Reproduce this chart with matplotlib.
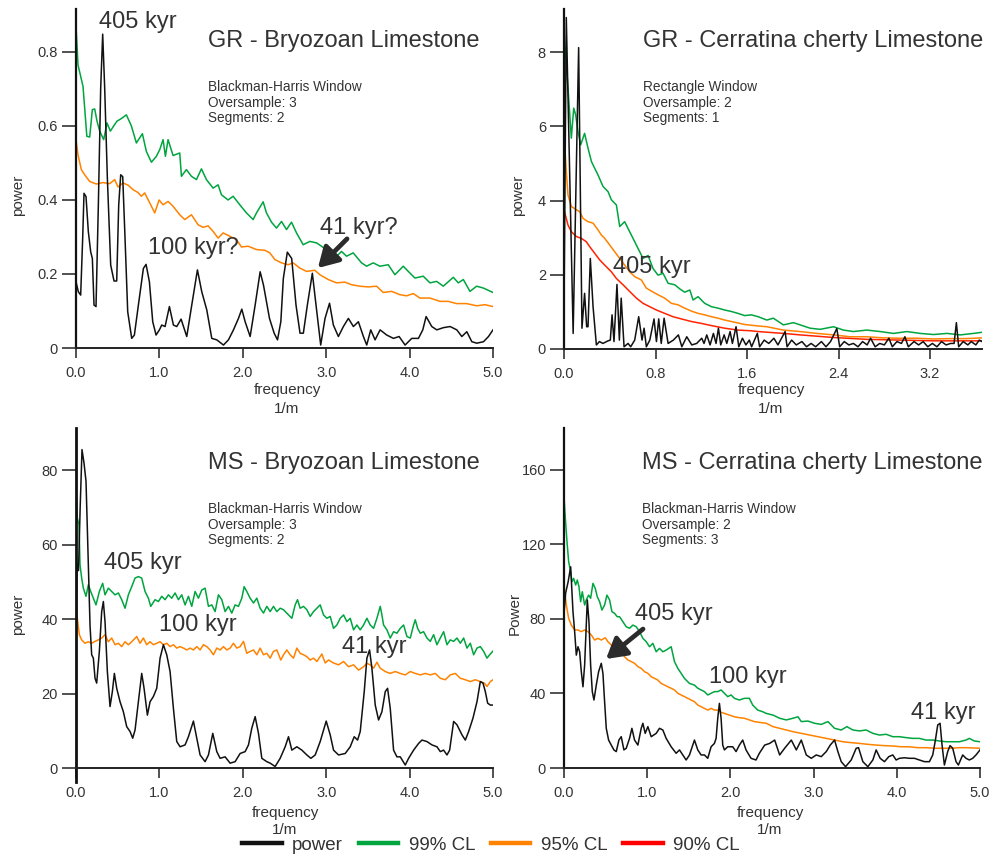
import matplotlib
matplotlib.use('Agg')
import matplotlib.pyplot as plt
from matplotlib.lines import Line2D

plt.rcParams['font.family'] = ['Liberation Sans', 'DejaVu Sans']

# ---------------- DATA ----------------
# Panel 1: GR - Bryozoan Limestone  (frequency, power)
gr_bryo_power = [(0.0,0.179),(0.028,0.152),(0.056,0.143),(0.08,0.296),(0.096,0.418),(0.12,0.409),(0.148,0.314),
    (0.176,0.26),(0.196,0.242),(0.216,0.116),(0.24,0.112),(0.268,0.386),(0.296,0.702),(0.32,0.848),(0.344,0.702),
    (0.376,0.459),(0.416,0.224),(0.456,0.181),(0.488,0.181),(0.512,0.386),(0.536,0.468),(0.56,0.463),(0.588,0.296),
    (0.62,0.098),(0.668,0.026),(0.7,0.035),(0.748,0.116),(0.808,0.215),(0.84,0.226),(0.88,0.179),(0.92,0.071),
    (0.96,0.035),(1.0,0.049),(1.028,0.062),(1.068,0.058),(1.12,0.112),(1.168,0.062),(1.208,0.058),(1.26,0.078),
    (1.328,0.031),(1.388,0.116),(1.456,0.211),(1.508,0.152),(1.568,0.103),(1.628,0.026),(1.688,0.022),(1.768,0.008),
    (1.828,0.022),(1.888,0.049),(1.948,0.08),(1.988,0.105),(2.028,0.071),(2.088,0.031),(2.148,0.116),(2.208,0.206),
    (2.248,0.17),(2.32,0.08),(2.376,0.04),(2.416,0.022),(2.456,0.071),(2.486,0.188),(2.534,0.259),(2.586,0.242),
    (2.638,0.116),(2.686,0.04),(2.726,0.04),(2.774,0.116),(2.834,0.202),(2.878,0.116),(2.934,0.008),(2.986,0.08),
    (3.04,0.121),(3.086,0.062),(3.146,0.031),(3.206,0.058),(3.266,0.08),(3.326,0.058),(3.386,0.071),(3.446,0.031),
    (3.486,0.008),(3.534,0.049),(3.586,0.022),(3.646,0.049),(3.726,0.035),(3.806,0.026),(3.874,0.031),(3.946,0.008),
    (4.026,0.026),(4.106,0.026),(4.158,0.049),(4.198,0.085),(4.266,0.058),(4.326,0.049),(4.406,0.055),(4.486,0.058),
    (4.566,0.049),(4.626,0.031),(4.686,0.044),(4.746,0.017),(4.806,0.013),(4.886,0.017),(4.946,0.031),(5.0,0.049)]
gr_bryo_cl99 = [(0.0,0.87),(0.024,0.765),(0.084,0.707),(0.13,0.572),(0.164,0.57),(0.196,0.644),(0.224,0.646),
    (0.252,0.613),(0.284,0.586),(0.332,0.563),(0.372,0.608),(0.412,0.586),(0.452,0.6),(0.492,0.613),(0.544,0.62),
    (0.604,0.63),(0.664,0.6),(0.724,0.554),(0.796,0.579),(0.844,0.531),(0.904,0.502),(0.964,0.518),(1.004,0.536),
    (1.044,0.563),(1.072,0.518),(1.104,0.563),(1.164,0.52),(1.244,0.527),(1.264,0.464),(1.324,0.482),(1.384,0.464),
    (1.444,0.455),(1.504,0.484),(1.564,0.455),(1.644,0.432),(1.704,0.441),(1.744,0.414),(1.824,0.4),(1.884,0.41),
    (1.964,0.387),(2.044,0.365),(2.124,0.347),(2.164,0.365),(2.244,0.395),(2.284,0.365),(2.344,0.34),(2.404,0.324),
    (2.464,0.342),(2.524,0.32),(2.584,0.34),(2.644,0.311),(2.724,0.279),(2.804,0.288),(2.884,0.284),(2.944,0.275),
    (3.044,0.257),(3.104,0.243),(3.184,0.261),(3.244,0.248),(3.324,0.257),(3.424,0.23),(3.484,0.221),(3.564,0.23),
    (3.644,0.221),(3.744,0.225),(3.824,0.198),(3.924,0.221),(3.984,0.207),(4.064,0.189),(4.164,0.194),(4.244,0.176),
    (4.324,0.18),(4.404,0.167),(4.524,0.191),(4.584,0.176),(4.644,0.185),(4.724,0.153),(4.804,0.167),(4.884,0.162),
    (5.0,0.15)]
gr_bryo_cl95 = [(0.0,0.563),(0.024,0.522),(0.064,0.482),(0.104,0.468),(0.164,0.45),(0.244,0.443),(0.324,0.447),
    (0.404,0.444),(0.464,0.455),(0.504,0.435),(0.564,0.446),(0.624,0.44),(0.684,0.428),(0.744,0.42),(0.784,0.41),
    (0.824,0.419),(0.884,0.392),(0.944,0.365),(0.996,0.4),(1.044,0.387),(1.104,0.396),(1.164,0.383),(1.244,0.36),
    (1.304,0.347),(1.384,0.36),(1.464,0.333),(1.524,0.326),(1.584,0.33),(1.644,0.315),(1.704,0.297),(1.764,0.311),
    (1.844,0.302),(1.924,0.293),(1.984,0.273),(2.064,0.275),(2.164,0.266),(2.264,0.264),(2.324,0.257),(2.384,0.239),
    (2.464,0.23),(2.544,0.225),(2.604,0.23),(2.684,0.216),(2.764,0.207),(2.864,0.21),(2.924,0.198),(3.024,0.185),
    (3.124,0.176),(3.224,0.178),(3.304,0.171),(3.404,0.167),(3.504,0.165),(3.604,0.167),(3.684,0.15),(3.784,0.153),
    (3.884,0.144),(3.964,0.141),(4.044,0.147),(4.124,0.135),(4.244,0.135),(4.364,0.126),(4.464,0.126),(4.564,0.12),
    (4.684,0.12),(4.804,0.114),(4.904,0.117),(5.0,0.112)]

# Panel 2: GR - Cerratina cherty Limestone
gr_cerr_power = [(0.0,1.0),(0.02,8.93),(0.08,0.42),(0.128,8.12),(0.157,0.56),(0.18,1.5),(0.198,0.6),(0.21,0.6),
    (0.23,2.44),(0.254,1.14),(0.283,0.11),(0.31,0.2),(0.34,0.15),(0.385,0.22),(0.405,0.24),(0.42,0.92),(0.437,0.2),
    (0.463,1.74),(0.484,0.24),(0.5,1.37),(0.525,0.06),(0.56,0.15),(0.583,0.06),(0.618,0.24),(0.653,0.87),(0.682,0.24),
    (0.7,0.56),(0.72,0.06),(0.75,0.24),(0.787,0.81),(0.808,0.2),(0.828,0.81),(0.85,0.15),(0.875,0.83),(0.91,0.15),
    (0.956,0.24),(1.0,0.38),(1.03,0.06),(1.073,0.33),(1.117,0.11),(1.16,0.15),(1.204,0.29),(1.224,0.15),(1.248,0.38),
    (1.277,0.11),(1.306,0.42),(1.329,0.15),(1.35,0.56),(1.37,0.11),(1.4,0.38),(1.423,0.15),(1.452,0.47),(1.472,0.15),
    (1.504,0.6),(1.528,0.06),(1.56,0.29),(1.59,0.11),(1.62,0.24),(1.64,0.06),(1.665,0.24),(1.69,0.42),(1.71,0.06),
    (1.75,0.24),(1.79,0.15),(1.835,0.29),(1.87,0.11),(1.933,0.47),(1.95,0.06),(1.99,0.24),(2.03,0.11),(2.08,0.2),
    (2.12,0.06),(2.16,0.15),(2.2,0.06),(2.25,0.2),(2.29,0.06),(2.33,0.2),(2.385,0.55),(2.41,0.06),(2.45,0.2),
    (2.49,0.11),(2.53,0.15),(2.57,0.06),(2.61,0.2),(2.65,0.11),(2.68,0.29),(2.72,0.06),(2.76,0.15),(2.8,0.11),
    (2.84,0.29),(2.87,0.06),(2.91,0.2),(2.95,0.15),(2.98,0.33),(3.01,0.06),(3.06,0.2),(3.1,0.11),(3.14,0.2),
    (3.18,0.06),(3.22,0.15),(3.26,0.06),(3.3,0.2),(3.34,0.11),(3.38,0.15),(3.41,0.15),(3.43,0.71),(3.45,0.06),
    (3.49,0.2),(3.53,0.11),(3.56,0.2),(3.6,0.11),(3.63,0.24),(3.654,0.2)]
gr_cerr_cl99 = [(0.0,8.55),(0.035,7.03),(0.064,5.68),(0.085,6.49),(0.102,6.31),(0.122,5.86),(0.146,5.5),(0.18,5.81),
    (0.21,5.41),(0.24,5.05),(0.268,4.87),(0.297,4.69),(0.341,4.38),(0.385,4.24),(0.414,4.02),(0.458,3.88),(0.487,3.3),
    (0.53,3.43),(0.574,3.16),(0.618,2.89),(0.647,2.71),(0.691,2.44),(0.735,2.52),(0.778,2.17),(0.822,1.99),(0.866,2.04),
    (0.91,1.77),(0.968,1.73),(1.012,1.62),(1.055,1.53),(1.1,1.59),(1.128,1.32),(1.172,1.41),(1.23,1.23),(1.289,1.14),
    (1.347,1.1),(1.405,1.05),(1.464,1.01),(1.52,0.96),(1.58,0.9),(1.638,0.92),(1.697,0.87),(1.773,0.78),(1.83,0.83),
    (1.918,0.65),(2.006,0.71),(2.064,0.65),(2.152,0.56),(2.24,0.53),(2.356,0.6),(2.443,0.51),(2.53,0.47),(2.647,0.51),
    (2.764,0.47),(2.88,0.42),(2.997,0.47),(3.114,0.42),(3.23,0.39),(3.347,0.42),(3.464,0.38),(3.58,0.42),(3.654,0.45)]
gr_cerr_cl95 = [(0.0,5.86),(0.02,4.78),(0.035,4.15),(0.064,3.84),(0.108,3.75),(0.137,3.7),(0.166,3.52),(0.21,3.43),
    (0.254,3.39),(0.297,3.21),(0.327,3.07),(0.356,2.98),(0.4,2.8),(0.443,2.62),(0.487,2.44),(0.53,2.26),(0.574,2.08),
    (0.618,1.95),(0.676,1.86),(0.72,1.64),(0.764,1.56),(0.822,1.46),(0.88,1.37),(0.939,1.23),(0.997,1.19),(1.055,1.1),
    (1.114,1.02),(1.172,0.96),(1.23,0.92),(1.289,0.87),(1.347,0.83),(1.405,0.78),(1.493,0.72),(1.58,0.66),(1.697,0.62),
    (1.773,0.6),(1.918,0.51),(2.064,0.47),(2.21,0.42),(2.356,0.38),(2.5,0.33),(2.647,0.33),(2.793,0.3),(2.94,0.29),
    (3.085,0.29),(3.23,0.27),(3.376,0.28),(3.52,0.28),(3.654,0.3)]
gr_cerr_cl90 = [(0.0,3.75),(0.035,3.34),(0.064,3.16),(0.108,3.03),(0.152,2.98),(0.195,2.89),(0.224,2.76),(0.268,2.58),
    (0.312,2.4),(0.356,2.26),(0.414,2.08),(0.458,1.9),(0.516,1.73),(0.574,1.55),(0.633,1.37),(0.691,1.23),(0.749,1.14),
    (0.808,1.05),(0.88,0.96),(0.953,0.87),(1.026,0.81),(1.114,0.74),(1.2,0.69),(1.289,0.63),(1.405,0.56),(1.52,0.51),
    (1.638,0.49),(1.697,0.47),(1.918,0.42),(2.064,0.38),(2.356,0.31),(2.647,0.26),(2.94,0.24),(3.23,0.22),(3.654,0.22)]

# Panel 3: MS - Bryozoan Limestone
ms_bryo_power = [(0.0,35.0),(0.012,55.0),(0.03,53.0),(0.05,70.0),(0.072,85.5),(0.096,81.9),(0.12,77.0),(0.148,54.6),
    (0.168,38.4),(0.188,30.4),(0.208,29.5),(0.228,24.1),(0.248,22.8),(0.28,31.3),(0.308,42.0),(0.328,44.7),(0.348,39.3),
    (0.376,25.9),(0.408,16.5),(0.436,20.5),(0.46,25.4),(0.488,21.4),(0.528,17.8),(0.568,15.1),(0.608,11.1),(0.648,9.8),
    (0.68,8.0),(0.708,10.2),(0.748,17.8),(0.788,25.4),(0.816,21.4),(0.856,14.2),(0.888,17.8),(0.928,19.2),(0.968,21.4),
    (1.008,29.5),(1.048,33.1),(1.088,30.4),(1.128,25.9),(1.168,16.0),(1.208,7.1),(1.248,5.7),(1.308,6.2),(1.348,8.4),
    (1.408,12.6),(1.448,8.0),(1.488,3.5),(1.548,1.7),(1.588,3.5),(1.64,9.3),(1.688,4.4),(1.728,2.6),(1.788,3.0),
    (1.848,1.3),(1.908,1.7),(1.968,3.9),(2.028,4.4),(2.068,6.2),(2.108,10.7),(2.148,13.8),(2.188,9.3),(2.228,2.6),
    (2.288,1.7),(2.328,1.3),(2.388,0.4),(2.448,2.6),(2.508,5.7),(2.548,8.4),(2.588,4.8),(2.648,5.7),(2.708,4.8),
    (2.768,3.5),(2.816,2.6),(2.868,3.5),(2.928,7.1),(3.0,12.6),(3.048,8.9),(3.088,4.8),(3.148,3.5),(3.228,3.9),
    (3.288,5.7),(3.336,8.4),(3.376,7.5),(3.408,9.8),(3.456,20.5),(3.488,29.5),(3.52,31.7),(3.548,26.8),(3.588,16.9),
    (3.628,12.9),(3.668,15.1),(3.708,20.5),(3.736,21.4),(3.768,16.0),(3.808,4.8),(3.848,3.0),(3.888,3.0),(3.948,0.8),
    (3.988,2.6),(4.048,4.8),(4.108,6.6),(4.148,7.5),(4.208,7.1),(4.268,6.2),(4.328,5.7),(4.368,4.4),(4.408,4.8),
    (4.448,3.5),(4.48,4.8),(4.528,12.5),(4.568,11.6),(4.628,8.9),(4.668,7.5),(4.708,9.8),(4.76,13.4),(4.808,17.8),
    (4.848,23.2),(4.88,22.8),(4.908,20.5),(4.936,17.4),(4.968,16.9),(5.0,16.9)]
ms_bryo_cl99 = [(0.0,74.3),(0.016,67.1),(0.036,65.3),(0.048,54.6),(0.068,51.0),(0.088,48.3),(0.12,46.1),(0.148,49.2),
    (0.176,47.4),(0.208,45.6),(0.24,43.8),(0.28,47.4),(0.32,49.6),(0.348,46.5),(0.388,48.3),(0.428,47.4),(0.468,46.5),
    (0.508,47.0),(0.548,45.2),(0.588,42.9),(0.628,46.5),(0.668,48.7),(0.708,51.0),(0.748,51.4),(0.788,51.0),(0.828,47.4),
    (0.868,45.6),(0.896,43.4),(0.948,45.2),(0.988,44.7),(1.028,46.1),(1.068,45.2),(1.108,46.5),(1.148,45.6),(1.188,47.0),
    (1.228,45.2),(1.268,46.5),(1.308,43.8),(1.348,46.1),(1.388,43.4),(1.428,47.4),(1.468,45.6),(1.508,47.8),(1.548,48.3),
    (1.588,43.4),(1.628,43.8),(1.668,42.0),(1.708,46.5),(1.748,45.2),(1.788,42.0),(1.828,43.4),(1.868,41.6),(1.908,43.8),
    (1.948,43.4),(1.988,45.6),(2.016,48.7),(2.048,47.4),(2.088,45.6),(2.128,44.3),(2.168,45.6),(2.208,42.9),(2.248,41.6),
    (2.288,43.4),(2.328,42.0),(2.368,43.4),(2.408,42.0),(2.448,42.9),(2.488,42.5),(2.548,41.1),(2.588,40.2),(2.628,43.8),
    (2.656,45.2),(2.688,42.9),(2.728,43.4),(2.768,42.5),(2.808,40.7),(2.848,42.0),(2.888,42.9),(2.928,43.8),(2.968,41.1),
    (3.008,40.2),(3.048,40.7),(3.088,37.5),(3.128,38.4),(3.168,40.2),(3.208,41.1),(3.248,39.3),(3.288,40.2),(3.328,37.1),
    (3.368,38.4),(3.408,37.1),(3.448,38.4),(3.488,40.2),(3.528,38.4),(3.568,37.5),(3.608,40.2),(3.648,43.4),(3.668,41.1),
    (3.688,38.4),(3.728,37.1),(3.768,34.9),(3.808,36.6),(3.848,36.2),(3.888,37.5),(3.928,38.4),(3.968,35.3),(4.008,34.9),
    (4.048,38.4),(4.068,39.8),(4.096,37.5),(4.128,36.2),(4.168,36.6),(4.208,34.9),(4.248,34.0),(4.288,35.8),(4.328,33.1),
    (4.368,34.9),(4.408,36.6),(4.448,33.1),(4.488,34.4),(4.528,34.0),(4.568,34.9),(4.608,33.5),(4.648,34.9),(4.688,32.2),
    (4.728,33.5),(4.768,30.4),(4.808,32.2),(4.848,32.6),(4.888,31.3),(4.928,29.5),(4.96,30.4),(5.0,31.4)]
ms_bryo_cl95 = [(0.0,44.7),(0.016,40.2),(0.04,35.8),(0.068,34.4),(0.108,33.5),(0.148,33.9),(0.188,33.5),(0.228,34.0),
    (0.268,34.4),(0.308,34.9),(0.348,35.8),(0.388,33.9),(0.428,34.9),(0.468,33.1),(0.508,33.5),(0.548,32.6),(0.588,33.9),
    (0.628,33.1),(0.668,33.9),(0.728,35.3),(0.768,33.5),(0.808,34.9),(0.848,33.1),(0.888,33.9),(0.928,33.1),(0.968,33.5),
    (1.008,33.9),(1.048,33.1),(1.088,33.5),(1.128,32.6),(1.168,33.1),(1.208,32.2),(1.248,32.6),(1.288,32.2),(1.328,31.7),
    (1.368,32.2),(1.408,31.7),(1.448,32.6),(1.488,31.7),(1.528,33.1),(1.568,32.6),(1.608,31.7),(1.648,30.4),(1.688,32.2),
    (1.728,31.7),(1.768,32.6),(1.808,31.7),(1.848,32.2),(1.888,33.5),(1.928,32.2),(1.968,32.6),(2.008,34.0),(2.048,30.8),
    (2.088,31.3),(2.128,31.7),(2.168,30.4),(2.208,32.2),(2.248,30.4),(2.288,30.8),(2.328,29.5),(2.368,31.3),(2.408,31.7),
    (2.456,29.0),(2.488,30.4),(2.528,31.7),(2.568,30.4),(2.608,29.5),(2.648,32.2),(2.688,30.8),(2.728,30.4),(2.768,29.9),
    (2.808,29.0),(2.848,29.5),(2.888,28.6),(2.948,30.6),(2.988,28.2),(3.028,29.0),(3.088,28.2),(3.148,27.7),(3.208,28.6),
    (3.268,27.2),(3.328,27.7),(3.388,26.3),(3.448,27.2),(3.488,28.1),(3.528,27.7),(3.568,26.8),(3.608,28.4),(3.648,26.8),
    (3.708,25.9),(3.768,25.4),(3.828,25.9),(3.888,25.4),(3.948,25.0),(4.008,25.9),(4.068,25.4),(4.128,25.0),(4.188,25.4),
    (4.248,25.0),(4.308,25.4),(4.368,24.1),(4.428,23.7),(4.488,25.0),(4.548,25.4),(4.608,24.1),(4.668,23.7),(4.728,23.2),
    (4.788,23.7),(4.848,23.2),(4.896,22.8),(4.928,21.9),(4.968,23.2),(5.0,23.7)]

# Panel 4: MS - Cerratina cherty Limestone
ms_cerr_power = [(0.0,83.0),(0.02,94.0),(0.05,100.0),(0.08,108.0),(0.108,83.9),(0.128,73.2),(0.148,60.6),(0.168,65.1),
    (0.188,62.4),(0.208,51.7),(0.228,43.6),(0.248,55.3),(0.28,90.2),(0.3,78.5),(0.32,55.3),(0.34,41.0),(0.36,36.5),
    (0.388,44.5),(0.416,51.7),(0.448,56.2),(0.468,50.8),(0.488,35.6),(0.508,21.3),(0.536,15.0),(0.568,12.3),(0.6,9.7),
    (0.628,8.8),(0.66,15.0),(0.688,16.8),(0.72,9.7),(0.748,10.6),(0.788,15.9),(0.816,21.3),(0.848,15.0),(0.888,12.3),
    (0.928,21.3),(0.948,24.0),(0.976,18.6),(1.008,22.2),(1.048,16.8),(1.108,18.6),(1.148,21.3),(1.188,20.4),(1.228,15.9),
    (1.288,11.4),(1.348,7.9),(1.388,9.7),(1.428,7.0),(1.468,4.3),(1.508,7.0),(1.568,15.0),(1.608,9.7),(1.648,7.0),
    (1.688,7.0),(1.728,5.2),(1.768,11.4),(1.808,13.2),(1.828,15.9),(1.848,26.7),(1.868,34.7),(1.888,26.7),(1.908,12.3),
    (1.928,9.7),(1.968,11.4),(2.028,11.4),(2.068,8.8),(2.108,12.3),(2.148,15.0),(2.188,9.7),(2.248,5.2),(2.308,4.3),
    (2.348,7.9),(2.412,12.3),(2.472,13.2),(2.532,15.0),(2.592,7.0),(2.652,10.6),(2.732,15.0),(2.792,9.7),(2.852,15.0),
    (2.912,7.0),(2.972,5.2),(3.032,7.0),(3.092,6.1),(3.152,8.8),(3.2,12.3),(3.252,15.0),(3.292,8.8),(3.332,3.4),
    (3.384,0.7),(3.452,4.3),(3.512,10.6),(3.54,10.9),(3.592,3.4),(3.652,0.7),(3.712,4.3),(3.752,9.7),(3.8,5.2),
    (3.852,3.4),(3.904,6.1),(3.952,7.0),(3.992,4.3),(4.032,5.2),(4.092,5.5),(4.152,5.2),(4.212,5.2),(4.272,4.3),
    (4.332,3.4),(4.392,3.4),(4.432,7.0),(4.464,15.0),(4.492,23.1),(4.52,24.0),(4.544,12.3),(4.572,1.6),(4.612,8.8),
    (4.64,12.0),(4.672,10.6),(4.712,3.4),(4.74,1.6),(4.792,7.0),(4.832,5.2),(4.872,4.3),(4.912,5.2),(4.952,7.0),(5.0,9.7)]
ms_cerr_cl99 = [(0.0,145.6),(0.016,134.0),(0.036,121.5),(0.056,110.7),(0.076,106.3),(0.096,100.0),(0.116,101.8),
    (0.14,98.2),(0.16,100.9),(0.18,97.3),(0.2,89.3),(0.22,94.6),(0.248,87.5),(0.268,90.2),(0.296,92.8),(0.32,91.1),
    (0.348,99.1),(0.376,96.4),(0.4,91.9),(0.428,89.3),(0.456,84.8),(0.488,87.5),(0.516,92.8),(0.548,90.2),(0.576,83.9),
    (0.608,83.0),(0.64,81.2),(0.668,81.2),(0.708,78.5),(0.748,75.8),(0.788,75.0),(0.828,76.7),(0.868,75.8),(0.908,73.2),
    (0.948,69.6),(0.988,67.8),(1.028,65.1),(1.068,66.9),(1.108,62.4),(1.148,64.2),(1.188,62.4),(1.228,63.3),(1.288,65.1),
    (1.328,57.1),(1.368,53.5),(1.408,50.8),(1.448,48.1),(1.508,45.4),(1.568,44.5),(1.608,42.8),(1.648,41.9),(1.688,41.0),
    (1.728,39.2),(1.768,40.1),(1.808,41.0),(1.848,41.0),(1.888,41.9),(1.928,40.1),(1.968,38.3),(2.008,39.2),(2.048,37.4),
    (2.108,36.5),(2.168,37.4),(2.228,37.4),(2.268,33.8),(2.328,31.1),(2.388,30.2),(2.432,29.3),(2.512,28.4),(2.592,26.7),
    (2.672,25.8),(2.752,26.7),(2.812,27.5),(2.852,24.9),(2.932,25.2),(3.012,24.0),(3.092,23.4),(3.172,24.9),(3.252,21.3),
    (3.332,20.4),(3.4,22.2),(3.472,20.4),(3.552,19.9),(3.632,20.4),(3.712,18.6),(3.792,17.7),(3.872,18.1),(3.952,16.8),
    (4.032,16.8),(4.112,16.3),(4.192,15.9),(4.272,15.9),(4.352,15.0),(4.432,15.0),(4.512,14.5),(4.592,14.1),(4.672,14.1),
    (4.752,14.1),(4.832,15.0),(4.872,15.9),(4.932,14.5),(5.0,14.1)]
ms_cerr_cl95 = [(0.0,98.2),(0.028,87.5),(0.056,80.3),(0.088,76.7),(0.128,74.1),(0.168,74.1),(0.208,73.2),(0.248,74.1),
    (0.288,73.2),(0.328,71.4),(0.368,68.7),(0.408,69.6),(0.448,68.7),(0.496,69.9),(0.528,67.8),(0.568,66.0),(0.608,65.1),
    (0.648,63.3),(0.688,62.4),(0.728,59.7),(0.768,58.0),(0.808,57.1),(0.848,56.2),(0.888,54.4),(0.928,53.5),(0.968,51.7),
    (1.008,50.8),(1.048,49.0),(1.088,48.1),(1.128,47.2),(1.168,45.4),(1.208,44.5),(1.248,43.6),(1.288,42.8),(1.328,41.9),
    (1.368,40.1),(1.408,39.2),(1.448,38.3),(1.488,37.4),(1.528,36.5),(1.568,35.6),(1.608,33.8),(1.648,32.9),(1.688,32.0),
    (1.728,31.1),(1.768,32.0),(1.808,31.1),(1.848,31.1),(1.888,29.9),(1.928,29.3),(1.988,28.4),(2.048,27.5),(2.108,27.0),
    (2.168,26.7),(2.228,25.8),(2.288,24.9),(2.348,24.5),(2.432,24.0),(2.512,22.2),(2.592,21.3),(2.672,20.4),(2.752,19.5),
    (2.852,18.6),(2.952,17.7),(3.052,16.8),(3.152,15.9),(3.252,15.0),(3.352,14.1),(3.452,13.6),(3.552,13.2),(3.652,12.7),
    (3.752,12.3),(3.852,12.0),(3.952,11.8),(4.052,11.4),(4.152,11.4),(4.252,10.9),(4.352,10.9),(4.452,10.6),(4.552,10.6),
    (4.652,10.6),(4.752,10.9),(4.852,10.9),(5.0,10.6)]

# Tick values / labels
x_ticks_5 = [0.0, 1.0, 2.0, 3.0, 4.0, 5.0]
x_ticks_36 = [0.0, 0.8, 1.6, 2.4, 3.2]
y_ticks_p1 = [0, 0.2, 0.4, 0.6, 0.8]
y_ticks_p2 = [0, 2, 4, 6, 8]
y_ticks_p3 = [0, 20, 40, 60, 80]
y_ticks_p4 = [0, 40, 80, 120, 160]

titles = ["GR - Bryozoan Limestone", "GR - Cerratina cherty Limestone",
          "MS - Bryozoan Limestone", "MS - Cerratina cherty Limestone"]
infos = [["Blackman-Harris Window", "Oversample: 3", "Segments: 2"],
         ["Rectangle Window", "Oversample: 2", "Segments: 1"],
         ["Blackman-Harris Window", "Oversample: 3", "Segments: 2"],
         ["Blackman-Harris Window", "Oversample: 2", "Segments: 3"]]
ylabels = ["power", "power", "power", "Power"]

# ---------------- STYLE ----------------
W, H = 1002, 856
TXT = '#333333'
BLACK = '#111111'
GREEN = '#00a540'
ORANGE = '#ff8200'
RED = '#ff2400'

fig = plt.figure(figsize=(W / 100, H / 100), dpi=100)


def fx(px):
    return px / W


def fy(py):
    return 1 - py / H


def make_ax(l, t, r, b, xlim, ylim, xticks, yticks, xfmt, yfmt):
    ax = fig.add_axes([fx(l), fy(b), (r - l) / W, (b - t) / H])
    ax.set_xlim(*xlim)
    ax.set_ylim(*ylim)
    ax.patch.set_alpha(0)
    for s in ['top', 'right']:
        ax.spines[s].set_visible(False)
    ax.spines['left'].set_linewidth(1.6)
    ax.spines['bottom'].set_linewidth(1.4)
    ax.spines['left'].set_color(BLACK)
    ax.spines['bottom'].set_color('#222222')
    ax.set_xticks(xticks)
    ax.set_xticklabels([xfmt(v) for v in xticks])
    ax.set_yticks(yticks)
    ax.set_yticklabels([yfmt(v) for v in yticks])
    ax.tick_params(axis='x', length=7, width=1.1, pad=6, labelsize=10.5,
                   labelcolor=TXT, color='#222222', direction='out')
    ax.tick_params(axis='y', length=10, width=1.1, pad=3, labelsize=10.5,
                   labelcolor=TXT, color='#222222', direction='out')
    return ax


def plot_series(ax, data, color, lw, z):
    xs = [p[0] for p in data]
    ys = [p[1] for p in data]
    ax.plot(xs, ys, color=color, lw=lw, zorder=z, solid_joinstyle='round')


f1 = lambda v: f"{v:.1f}"

# Panel boxes in pixels (left, top, right, bottom)
ax1 = make_ax(76, 9, 493, 348, (0, 5.0), (0, 0.916), x_ticks_5, y_ticks_p1, f1,
              lambda v: "0" if v == 0 else f"{v:.1f}")
ax2 = make_ax(564, 9, 982, 349, (0, 3.654), (0, 9.16), x_ticks_36, y_ticks_p2, f1,
              lambda v: f"{int(v)}")
ax3 = make_ax(76, 428, 493, 768, (0, 5.0), (0, 91.3), x_ticks_5, y_ticks_p3, f1,
              lambda v: f"{int(v)}")
ax4 = make_ax(564, 428, 980, 768, (0, 5.0), (0, 182.5), x_ticks_5, y_ticks_p4, f1,
              lambda v: f"{int(v)}")
# the MS-Bryozoan left axis runs a little below zero in the original
ax3.spines['left'].set_bounds(-3.7, 91.3)
ax3.spines['left'].set_linewidth(2.0)

plot_series(ax1, gr_bryo_cl99, GREEN, 1.1, 2)
plot_series(ax1, gr_bryo_cl95, ORANGE, 1.1, 2)
plot_series(ax1, gr_bryo_power, BLACK, 1.1, 3)

plot_series(ax2, gr_cerr_cl99, GREEN, 1.1, 2)
plot_series(ax2, gr_cerr_cl95, ORANGE, 1.1, 2)
plot_series(ax2, gr_cerr_cl90, RED, 1.1, 2)
plot_series(ax2, gr_cerr_power, BLACK, 1.1, 3)

plot_series(ax3, ms_bryo_cl99, GREEN, 1.1, 2)
plot_series(ax3, ms_bryo_cl95, ORANGE, 1.1, 2)
plot_series(ax3, ms_bryo_power, BLACK, 1.1, 3)

plot_series(ax4, ms_cerr_cl99, GREEN, 1.1, 2)
plot_series(ax4, ms_cerr_cl95, ORANGE, 1.1, 2)
plot_series(ax4, ms_cerr_power, BLACK, 1.1, 3)

# Titles, info text, axis labels (figure pixel positions)
title_pos = [(208, 41), (643, 41), (208, 463), (642, 463)]
info_pos = [(208, 87), (643, 87), (208, 509), (642, 509)]
ylabel_pos = [(18, 195), (518, 195), (18, 614), (515, 613)]
xlabel_pos = [(287, 390, 409), (771, 390, 409), (285, 813, 830), (770, 813, 830)]
for i in range(4):
    tx, ty = title_pos[i]
    fig.text(fx(tx), fy(ty), titles[i], fontsize=17, color=TXT, ha='left', va='center')
    ix, iy = info_pos[i]
    for k, line in enumerate(infos[i]):
        fig.text(fx(ix), fy(iy + 15.5 * k), line, fontsize=9.8, color=TXT, ha='left', va='center')
    lx, ly = ylabel_pos[i]
    fig.text(fx(lx), fy(ly), ylabels[i], fontsize=11, color=TXT, rotation=90, ha='center', va='center')
    cx, y1, y2 = xlabel_pos[i]
    fig.text(fx(cx), fy(y1), "frequency", fontsize=11, color=TXT, ha='center', va='center')
    fig.text(fx(cx), fy(y2), "1/m", fontsize=11, color=TXT, ha='center', va='center')

# Peak annotations (data coordinates)
ANN = dict(fontsize=17, color=TXT, ha='left', va='center', zorder=5)
ax1.text(0.276, 0.881, "405 kyr", **ANN)
ax1.text(0.863, 0.27, "100 kyr?", **ANN)
ax1.text(2.926, 0.324, "41 kyr?", **ANN)
ax2.text(0.428, 2.21, "405 kyr", **ANN)
ax3.text(0.336, 55.0, "405 kyr", **ANN)
ax3.text(0.995, 38.4, "100 kyr", **ANN)
ax3.text(3.19, 32.5, "41 kyr", **ANN)
ax4.text(0.853, 82.7, "405 kyr", **ANN)
ax4.text(1.743, 48.9, "100 kyr", **ANN)
ax4.text(4.17, 29.5, "41 kyr", **ANN)

arrow = dict(arrowstyle='-|>,head_length=0.6,head_width=0.35', lw=3.4, color='#2b2b2b',
             shrinkA=0, shrinkB=0, mutation_scale=20)
ax1.annotate('', xy=(2.90, 0.216), xytext=(3.25, 0.295), arrowprops=arrow, zorder=6)
ax4.annotate('', xy=(0.505, 58.5), xytext=(0.95, 74.6), arrowprops=arrow, zorder=6)

# Legend
handles = [Line2D([], [], color=BLACK, lw=3.2),
           Line2D([], [], color=GREEN, lw=3.2),
           Line2D([], [], color=ORANGE, lw=3.2),
           Line2D([], [], color='#ff0000', lw=3.2)]
labels = ["power", "99% CL", "95% CL", "90% CL"]
leg = fig.legend(handles, labels, loc='center', bbox_to_anchor=(fx(491), fy(845)), ncol=4,
                 frameon=False, fontsize=13.5, handlelength=2.1, handletextpad=0.55,
                 columnspacing=0.85, borderpad=0, borderaxespad=0)
for t in leg.get_texts():
    t.set_color(TXT)

fig.savefig('out.png', dpi=100)
